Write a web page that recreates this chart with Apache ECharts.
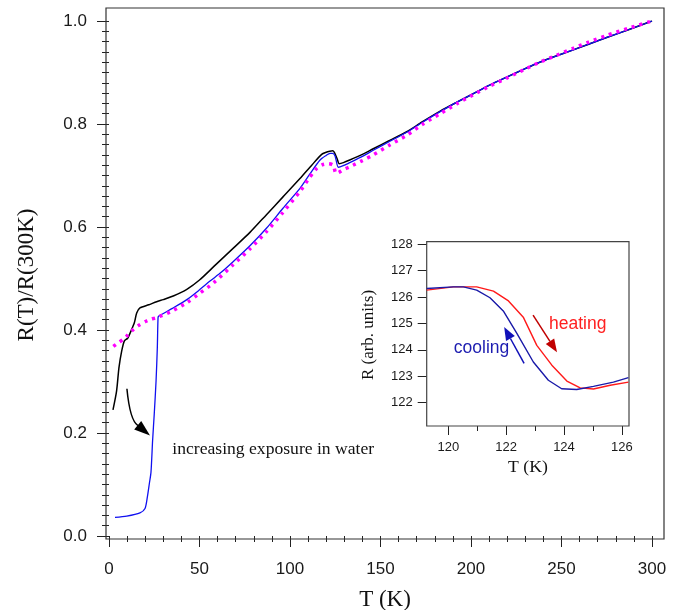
<!DOCTYPE html>
<html>
<head>
<meta charset="utf-8">
<script src="https://cdn.jsdelivr.net/npm/echarts@6/dist/echarts.min.js"></script>
<style>html,body{margin:0;padding:0;background:#fff}#c{width:696px;height:610px}</style>
</head>
<body>
<div id="c"></div>
<script>
// ---- main panel data ----
var blackT = [2.2,4.2,5.5,7,8.5,10.3,12.5,14,15.3,17.1,22,26.3,30,35.5,43,50,59,68.7,78,87,96,105.5,112,117.5,120,122,123.5,124.5,126,127.2,129.5,133,140,146,155,164.5,173,183,192,201.3,210,219.7,229,238,247,256.5,265,275,287,300];
var blackR = [0.245,0.282,0.327,0.359,0.379,0.384,0.401,0.414,0.433,0.443,0.449,0.455,0.459,0.466,0.479,0.497,0.527,0.559,0.59,0.624,0.658,0.694,0.72,0.741,0.745,0.747,0.748,0.745,0.733,0.723,0.725,0.73,0.741,0.752,0.768,0.785,0.804,0.825,0.842,0.859,0.875,0.891,0.906,0.92,0.932,0.944,0.955,0.968,0.983,1.0];

var blueT = [3.3,9.8,17.1,19.9,21.2,22.3,23.2,24.1,25,26,26.7,27.1,27.5,35,43,50,55.8,62,68.7,78,87.1,96,105.5,111,116.6,120,122.1,123.5,124.9,126.7,129.4,133,140,146,155,164.5,173,183,192,201.3,210,219.7,229,238,247,256.5,265,275,287,300];
var blueR = [0.036,0.0387,0.045,0.0535,0.076,0.102,0.124,0.186,0.237,0.301,0.366,0.424,0.427,0.442,0.459,0.478,0.495,0.512,0.533,0.564,0.598,0.636,0.675,0.703,0.73,0.739,0.743,0.743,0.738,0.716,0.719,0.725,0.737,0.749,0.766,0.784,0.803,0.824,0.842,0.859,0.875,0.891,0.906,0.92,0.932,0.944,0.955,0.968,0.983,1.0];

var magT = [2.4,5,7.9,10,12.5,16,19.9,23,26.3,35,43,50,57.6,68.7,78,87,96,105.5,110,114.8,118,121.2,123.9,125.4,127,129.4,133.1,140,146,155,164.5,173,183,192,201.3,210,219.7,229,238,247,256.5,265,275,287,300];
var magR = [0.368,0.375,0.382,0.389,0.398,0.408,0.416,0.421,0.424,0.437,0.453,0.471,0.491,0.527,0.558,0.591,0.628,0.669,0.692,0.714,0.721,0.723,0.72,0.704,0.706,0.711,0.717,0.729,0.74,0.759,0.778,0.799,0.82,0.839,0.857,0.873,0.889,0.905,0.92,0.933,0.947,0.959,0.972,0.986,1.0];

// ---- inset data ----
var heatT = [119.25,120.17,120.98,121.56,122.08,122.6,123.06,123.58,124.1,124.56,125.02,125.6,126.23];
var heatR = [126.26,126.38,126.38,126.22,125.85,125.22,124.17,123.42,122.82,122.56,122.52,122.66,122.78];
var coolT = [119.25,120.17,120.52,120.98,121.44,121.9,122.37,122.94,123.46,123.92,124.44,125.02,125.71,126.23];
var coolR = [126.32,126.38,126.38,126.26,125.97,125.47,124.62,123.54,122.85,122.53,122.5,122.62,122.78,122.95];

// ---- tick values ----
var mainXTicks = [0,50,100,150,200,250,300];
var mainYTicks = [0,0.2,0.4,0.6,0.8,1.0];
var insetXTicks = [120,122,124,126];
var insetXMinor = [121,123,125];
var insetYTicks = [122,123,124,125,126,127,128];

function zip(a,b){return a.map(function(v,i){return [v,b[i]];});}

var SANS = "'Liberation Sans', Arial, sans-serif";
var SERIF = "'Liberation Serif', 'Times New Roman', serif";

var chart = echarts.init(document.getElementById('c'), null, {renderer:'canvas'});

var tickLS = {color:'#222', width:1};

chart.setOption({
  animation:false,
  backgroundColor:'#fff',
  grid:[
    {left:109, top:21, width:543, height:515},
    {left:426.7, top:241.7, width:202.3, height:184.3}
  ],
  xAxis:[
    {gridIndex:0, type:'value', min:mainXTicks[0], max:mainXTicks[mainXTicks.length-1], interval:50, offset:3,
     axisLine:{show:false}, splitLine:{show:false},
     axisTick:{show:true, length:11, lineStyle:tickLS},
     minorTick:{show:true, splitNumber:5, length:6, lineStyle:tickLS},
     axisLabel:{margin:22, color:'#1a1a1a', fontSize:17, fontFamily:SANS}},
    {gridIndex:1, type:'value', min:119.25, max:126.25,
     axisLine:{show:false}, splitLine:{show:false},
     axisTick:{show:true, length:9, lineStyle:tickLS, customValues:insetXTicks},
     axisLabel:{margin:15, color:'#1a1a1a', fontSize:13, fontFamily:SANS, customValues:insetXTicks}},
    {gridIndex:1, type:'value', min:119.25, max:126.25, position:'bottom',
     axisLine:{show:false}, splitLine:{show:false},
     axisTick:{show:true, length:5, lineStyle:tickLS, customValues:insetXMinor},
     axisLabel:{show:false}}
  ],
  yAxis:[
    {gridIndex:0, type:'value', min:mainYTicks[0], max:mainYTicks[mainYTicks.length-1], interval:0.2, offset:3,
     axisLine:{show:false}, splitLine:{show:false},
     axisTick:{show:true, length:12, lineStyle:tickLS},
     minorTick:{show:true, splitNumber:10, length:7, lineStyle:tickLS},
     axisLabel:{margin:19, color:'#1a1a1a', fontSize:17, fontFamily:SANS, formatter:function(v){return v.toFixed(1);}}},
    {gridIndex:1, type:'value', min:121.12, max:128.09,
     axisLine:{show:false}, splitLine:{show:false},
     axisTick:{show:true, length:9, lineStyle:tickLS, customValues:insetYTicks},
     axisLabel:{margin:14, color:'#1a1a1a', fontSize:13, fontFamily:SANS, customValues:insetYTicks}}
  ],
  series:[
    {type:'line', xAxisIndex:0, yAxisIndex:0, data:zip(blackT,blackR), showSymbol:false, symbol:'none', smooth:0.25,
     lineStyle:{color:'#000', width:1.5}, z:3},
    {type:'line', xAxisIndex:0, yAxisIndex:0, data:zip(blueT,blueR), showSymbol:false, symbol:'none', smooth:0.25,
     lineStyle:{color:'#1010f0', width:1.3}, z:3},
    {type:'line', xAxisIndex:0, yAxisIndex:0, data:zip(magT,magR), showSymbol:false, symbol:'none', smooth:0.25,
     lineStyle:{color:'#ff00ff', width:3.5, type:[3,5], cap:'butt'}, z:4},
    {type:'line', xAxisIndex:1, yAxisIndex:1, data:zip(heatT,heatR), showSymbol:false, symbol:'none',
     lineStyle:{color:'#ff1a1a', width:1.4}, z:6},
    {type:'line', xAxisIndex:1, yAxisIndex:1, data:zip(coolT,coolR), showSymbol:false, symbol:'none',
     lineStyle:{color:'#1a1aa8', width:1.4}, z:6}
  ]
});

// ---- annotations (anchored in data coordinates) ----
function P(g, pt){ return chart.convertToPixel({gridIndex:g}, pt); }
function arrowHead(tail, tip, len, hw){
  var dx = tip[0]-tail[0], dy = tip[1]-tail[1];
  var L = Math.sqrt(dx*dx+dy*dy); dx/=L; dy/=L;
  var bx = tip[0]-dx*len, by = tip[1]-dy*len;
  return {base:[bx,by], pts:[[tip[0],tip[1]],[bx-dy*hw, by+dx*hw],[bx+dy*hw, by-dx*hw]]};
}

var mainArrow = {start:[9.9,0.286], ctrl:[11.6,0.224], end:[16.0,0.2145], tip:[22.65,0.195]};
var heatArrow = {tail:[122.93,125.31], tip:[123.76,123.91]};
var coolArrow = {tail:[122.62,123.49], tip:[121.93,124.86]};
var mainNote = {pos:[35.0,0.168], text:'increasing exposure in water'};
var heatNote = {pos:[123.48,124.97], text:'heating'};
var coolNote = {pos:[120.19,124.06], text:'cooling'};

var graphics = [];
// frames
graphics.push({type:'rect', shape:{x:106, y:8, width:558, height:531}, style:{fill:null, stroke:'#333', lineWidth:1.2}, z:1});
graphics.push({type:'rect', shape:{x:426.7, y:241.7, width:202.3, height:184.3}, style:{fill:null, stroke:'#444', lineWidth:1.2}, z:1});

// main curved arrow
var s = P(0, mainArrow.start), c = P(0, mainArrow.ctrl), e = P(0, mainArrow.end), t = P(0, mainArrow.tip);
graphics.push({type:'bezierCurve', shape:{x1:s[0], y1:s[1], cpx1:c[0], cpy1:c[1], x2:e[0], y2:e[1]}, style:{stroke:'#000', lineWidth:1.5, fill:null}, z:10});
var ah = arrowHead(e, t, 16, 5.5);
graphics.push({type:'polygon', shape:{points:[t, ah.pts[1], ah.pts[2]]}, style:{fill:'#000'}, z:10});

function straightArrow(g, a, color){
  var tl = P(g, a.tail), tp = P(g, a.tip);
  var h = arrowHead(tl, tp, 13, 5);
  graphics.push({type:'line', shape:{x1:tl[0], y1:tl[1], x2:h.base[0], y2:h.base[1]}, style:{stroke:color, lineWidth:1.5}, z:10});
  graphics.push({type:'polygon', shape:{points:h.pts}, style:{fill:color}, z:10});
}
straightArrow(1, heatArrow, '#c00000');
straightArrow(1, coolArrow, '#1010b8');

function note(g, n, font, color){
  var p = P(g, n.pos);
  graphics.push({type:'text', x:p[0], y:p[1], style:{text:n.text, font:font, fill:color, textAlign:'left', textVerticalAlign:'middle'}, z:10});
}
note(0, mainNote, '17.6px ' + SERIF, '#111');
note(1, heatNote, '17.5px ' + SANS, '#ff2020');
note(1, coolNote, '17.5px ' + SANS, '#1c1cb0');

// axis titles
graphics.push({type:'text', x:27, y:275, rotation:Math.PI/2, style:{text:'R(T)/R(300K)', font:'23px ' + SERIF, fill:'#111', textAlign:'center', textVerticalAlign:'middle'}, z:10});
graphics.push({type:'text', x:385, y:600, style:{text:'T (K)', font:'23px ' + SERIF, fill:'#111', textAlign:'center', textVerticalAlign:'middle'}, z:10});
graphics.push({type:'text', x:369, y:335, rotation:Math.PI/2, style:{text:'R (arb. units)', font:'17px ' + SERIF, fill:'#111', textAlign:'center', textVerticalAlign:'middle'}, z:10});
graphics.push({type:'text', x:528, y:467, style:{text:'T (K)', font:'17.7px ' + SERIF, fill:'#111', textAlign:'center', textVerticalAlign:'middle'}, z:10});

chart.setOption({graphic:graphics});
</script>
</body>
</html>
